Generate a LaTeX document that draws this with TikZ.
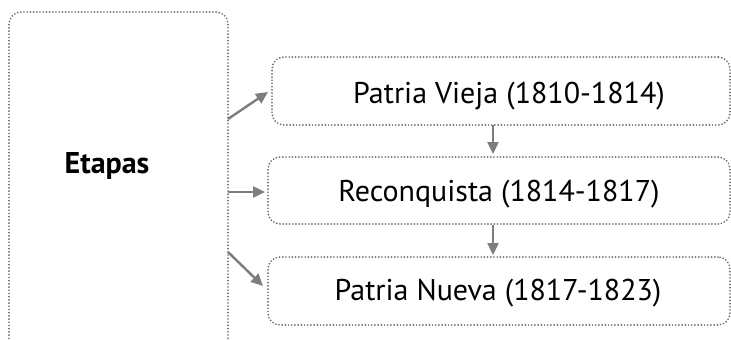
\documentclass[tikz,border=0pt]{standalone}
\usepackage{fontspec}
\setmainfont{PT Sans}
\usetikzlibrary{arrows.meta}
\definecolor{dotgray}{RGB}{105,105,105}
\definecolor{arrgray}{RGB}{125,125,125}
\tikzset{
  x=1pt, y=-1pt,
  dotbox/.style={draw=dotgray, line width=1.9pt, dash pattern=on 0pt off 3.2pt, line cap=round, rounded corners=12pt, inner sep=0pt},
  stagetext/.style={font=\fontsize{30}{34}\selectfont, anchor=base},
  conn/.style={draw=arrgray, line width=2.4pt, -{Triangle[length=12pt,width=11pt]}}
}
\begin{document}
\begin{tikzpicture}
\useasboundingbox (0,0) rectangle (731,340);
\clip (0,0) rectangle (731,340);
\node[dotbox, minimum width=219pt, minimum height=350pt] (etapas) at (118.5,187) {};
\node[font=\bfseries\fontsize{30}{34}\selectfont, anchor=base] (lbl) at (107,173) {Etapas};
\node[dotbox, minimum width=458pt, minimum height=68pt] (p1) at (501,91) {};
\node[stagetext] (t1) at (509,103) {Patria Vieja (1810-1814)};
\node[dotbox, minimum width=462pt, minimum height=67pt] (p2) at (499,190.5) {};
\node[stagetext] (t2) at (499,201) {Reconquista (1814-1817)};
\node[dotbox, minimum width=462pt, minimum height=68pt] (p3) at (499,291) {};
\node[stagetext] (t3) at (498,300) {Patria Nueva (1817-1823)};
\coordinate (e1) at (228,119);
\coordinate (e2) at (228,192);
\coordinate (e3) at (228,252);
\draw[conn] (e1) -- (268,92);
\draw[conn] (e2) -- (265,192);
\draw[conn] (e3) -- (263,286);
\draw[conn] (493,125) -- (493,154);
\draw[conn] (493,225) -- (493,255);
\end{tikzpicture}
\end{document}
